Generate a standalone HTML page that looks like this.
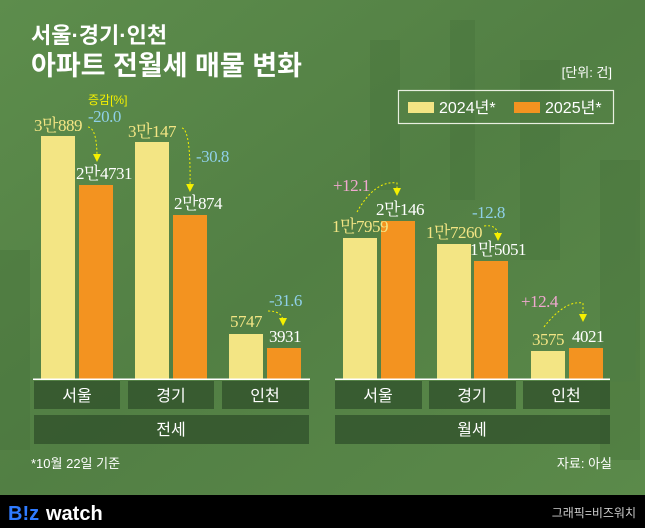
<!DOCTYPE html>
<html><head><meta charset="utf-8"><style>
html,body{margin:0;padding:0}
body{width:645px;height:528px;overflow:hidden}
svg{display:block}
.s{font-family:"Liberation Serif","Noto Serif CJK SC",serif;font-size:17px;letter-spacing:-0.5px}
.k{font-family:"Liberation Sans","Noto Sans CJK KR",sans-serif}
</style></head><body>
<svg width="645" height="528" viewBox="0 0 645 528" xmlns="http://www.w3.org/2000/svg">
<defs>
<linearGradient id="bg" x1="0" y1="0" x2="1" y2="1">
<stop offset="0" stop-color="#5d8d4c"/><stop offset="0.5" stop-color="#527f44"/><stop offset="1" stop-color="#5b8a4a"/>
</linearGradient>
<marker id="ar" markerWidth="8" markerHeight="8" refX="4" refY="4" orient="auto"><path d="M0,0 L8,4 L0,8z" fill="#f5f000"/></marker>
</defs>
<rect width="645" height="495" fill="url(#bg)"/>
<g fill="#44703a" opacity="0.35">
<rect x="370" y="40" width="30" height="150"/><rect x="450" y="20" width="25" height="180"/><rect x="520" y="60" width="40" height="200"/><rect x="600" y="160" width="40" height="300"/><rect x="0" y="250" width="30" height="200"/>
</g>
<text x="31" y="43" class="k" font-size="22" font-weight="bold" fill="#fff">서울·경기·인천</text>
<text x="31" y="75" class="k" font-size="27" font-weight="bold" fill="#fff">아파트 전월세 매물 변화</text>
<text x="612" y="77" class="k" font-size="13" fill="#fff" text-anchor="end">[단위: 건]</text>
<rect x="398.5" y="90.5" width="215" height="33" fill="none" stroke="#e8efe0" stroke-width="1.2"/>
<rect x="408" y="102" width="26" height="11" fill="#f3e584"/>
<text x="439" y="113" class="k" font-size="16" fill="#fff">2024년*</text>
<rect x="514" y="102" width="26" height="11" fill="#f39320"/>
<text x="545" y="113" class="k" font-size="16" fill="#fff">2025년*</text>
<g fill="#f3e584">
<rect x="41" y="136" width="34" height="243"/><rect x="135" y="142" width="34" height="237"/><rect x="229" y="334" width="34" height="45"/>
<rect x="343" y="238" width="34" height="141"/><rect x="437" y="244" width="34" height="135"/><rect x="531" y="351" width="34" height="28"/>
</g>
<g fill="#f39320">
<rect x="79" y="185" width="34" height="194"/><rect x="173" y="215" width="34" height="164"/><rect x="267" y="348" width="34" height="31"/>
<rect x="381" y="221" width="34" height="158"/><rect x="474" y="261" width="34" height="118"/><rect x="569" y="348" width="34" height="31"/>
</g>
<rect x="33" y="378.5" width="277" height="1.5" fill="#fff"/><rect x="335" y="378.5" width="275" height="1.5" fill="#fff"/>
<g fill="#2f4f2a" opacity="0.75">
<rect x="34" y="381" width="86" height="28"/><rect x="128" y="381" width="86" height="28"/><rect x="222" y="381" width="87" height="28"/>
<rect x="335" y="381" width="87" height="28"/><rect x="429" y="381" width="87" height="28"/><rect x="523" y="381" width="87" height="28"/>
<rect x="34" y="415" width="275" height="29"/><rect x="335" y="415" width="275" height="29"/>
</g>
<g class="k" font-size="16" fill="#fff" text-anchor="middle">
<text x="77" y="401">서울</text><text x="171" y="401">경기</text><text x="265" y="401">인천</text>
<text x="378" y="401">서울</text><text x="472" y="401">경기</text><text x="566" y="401">인천</text>
<text x="171" y="435">전세</text><text x="472" y="435">월세</text>
</g>
<text x="31" y="468" class="k" font-size="13" fill="#fff">*10월 22일 기준</text>
<text x="612" y="468" class="k" font-size="13" fill="#fff" text-anchor="end">자료: 아실</text>
<g class="s" fill="#f3e584" text-anchor="middle">
<text x="58" y="131">3만889</text><text x="152" y="137">3만147</text><text x="246" y="327">5747</text>
<text x="360" y="232">1만7959</text><text x="454" y="238">1만7260</text><text x="548" y="345">3575</text>
</g>
<g class="s" fill="#fff" text-anchor="middle">
<text x="104" y="179">2만4731</text><text x="198" y="209">2만874</text><text x="285" y="342">3931</text>
<text x="400" y="215">2만146</text><text x="498" y="255">1만5051</text><text x="588" y="342">4021</text>
</g>
<text x="88" y="104" class="k" font-size="12" fill="#f5f000">증감[%]</text>
<g class="s" fill="#8fd0e8">
<text x="88" y="122">-20.0</text><text x="196" y="162">-30.8</text><text x="269" y="306">-31.6</text><text x="472" y="218">-12.8</text>
</g>
<g class="s" fill="#f0a8d0">
<text x="333" y="191">+12.1</text><text x="521" y="307">+12.4</text>
</g>
<g fill="none" stroke="#f5f000" stroke-width="1" stroke-dasharray="2,2">
<path d="M88,127 Q97,128 97,158" marker-end="url(#ar)"/>
<path d="M182,128 Q191,130 190,188" marker-end="url(#ar)"/>
<path d="M268,311 Q283,311 283,322" marker-end="url(#ar)"/>
<path d="M357,212 Q375,180 397,183 L397,192" marker-end="url(#ar)"/>
<path d="M484,226 Q498,224 498,237" marker-end="url(#ar)"/>
<path d="M544,327 Q565,300 583,303 L583,318" marker-end="url(#ar)"/>
</g>
<rect y="495" width="645" height="33" fill="#000"/>
<text x="8" y="520" font-family="Liberation Sans,sans-serif" font-size="20" font-weight="bold" fill="#2f7bff">B!z</text>
<text x="46" y="520" font-family="Liberation Sans,sans-serif" font-size="20" font-weight="bold" fill="#fff">watch</text>
<text x="636" y="517" class="k" font-size="12" fill="#ccc" text-anchor="end">그래픽=비즈워치</text>
</svg>
</body></html>
